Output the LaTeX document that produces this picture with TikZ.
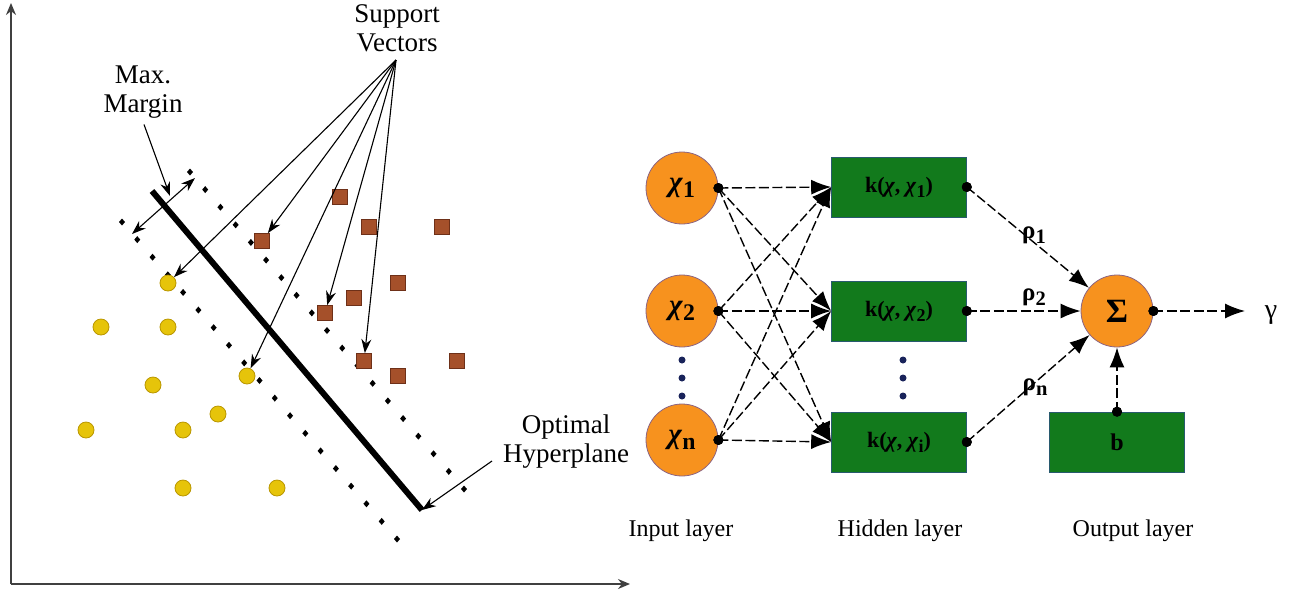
\documentclass[tikz,border=0pt]{standalone}
\usepackage{fontspec}
\setmainfont{Liberation Serif}
\usetikzlibrary{arrows.meta,calc}
\definecolor{orng}{RGB}{247,146,30}
\definecolor{orngE}{RGB}{140,100,130}
\definecolor{grn}{RGB}{18,122,28}
\definecolor{grnE}{RGB}{40,90,110}
\definecolor{ylw}{RGB}{230,196,10}
\definecolor{ylwE}{RGB}{185,150,0}
\definecolor{brn}{RGB}{165,80,42}
\definecolor{brnE}{RGB}{110,48,24}
\definecolor{navy}{RGB}{25,35,90}
\newcommand\lsub[1]{\raisebox{-0.22em}{\scalebox{0.82}{#1}}}
\newcommand\chib{\textit{χ}}
\begin{document}
\begin{tikzpicture}[x=1pt,y=-1pt,
  ypt/.style={circle, fill=ylw, draw=ylwE, line width=0.8pt, minimum size=16pt, inner sep=0pt},
  bsq/.style={rectangle, fill=brn, draw=brnE, line width=0.8pt, minimum size=15pt, inner sep=0pt},
  svarr/.style={line width=1.1pt, -{Stealth[length=14pt,width=10pt]}},
  axisline/.style={line width=1.4pt, draw=black!75, -{Stealth[length=12pt,width=10pt]}},
  lbl/.style={font=\fontsize{27}{29}\selectfont, align=center, inner sep=1pt},
  neuron/.style={circle, fill=orng, draw=orngE, line width=0.8pt, minimum size=72pt, inner sep=0pt, font=\fontsize{29}{32}\selectfont\bfseries},
  kbox/.style={rectangle, fill=grn, draw=grnE, line width=0.6pt, minimum width=135pt, minimum height=60pt, inner sep=0pt, font=\fontsize{22}{25}\selectfont\bfseries},
  dcon/.style={dash pattern=on 10pt off 3.5pt, line width=1.4pt, -{Latex[length=20pt,width=15pt]}},
  jdot/.style={circle, fill=black, minimum size=10pt, inner sep=0pt},
  vdot/.style={circle, fill=navy, minimum size=7pt, inner sep=0pt},
  layer/.style={font=\fontsize{24}{28}\selectfont},
  wlbl/.style={font=\fontsize{25}{28}\selectfont\bfseries}
]
\useasboundingbox (0,0) rectangle (1301,598);
% ---------------- SVM part ----------------
\coordinate (O) at (11,584);
\coordinate (ytop) at (11,3);
\coordinate (xend) at (630,584);
\draw[axisline] (O) -- (ytop);
\draw[axisline] (O) -- (xend);
% margin dotted lines
\coordinate (l1) at (122,222); \coordinate (l2) at (397,539);
\coordinate (r1) at (190,172); \coordinate (r2) at (464,489);
\foreach \i in {0,...,18}{
  \fill ($(l1)!\i/18!(l2)$) ++(-3,0) -- ++(3,-3.5) -- ++(3,3.5) -- ++(-3,3.5) -- cycle;
  \fill ($(r1)!\i/18!(r2)$) ++(-3,0) -- ++(3,-3.5) -- ++(3,3.5) -- ++(-3,3.5) -- cycle;
}
% hyperplane
\coordinate (h1) at (152,191); \coordinate (h2) at (422,510);
\draw[line width=6pt] (h1) -- (h2);
% points
\foreach \n/\x/\y in {c1/168/283, c2/101/327, c3/168/327, c4/153/385, c5/247/376,
  c6/218/414, c7/86/430, c8/183/430, c9/183/488, c10/277/488}
  \node[ypt] (\n) at (\x,\y) {};
\foreach \n/\x/\y in {q1/340/197, q2/369/227, q3/442/227, q4/262/241, q5/398/283,
  q6/354/298, q7/325/313, q8/364/361, q9/398/376, q10/457/361}
  \node[bsq] (\n) at (\x,\y) {};
% labels
\node[lbl] (svl) at (397,28) {Support\\Vectors};
\node[lbl] (mm) at (143,92) {Max.\\Margin};
\node[lbl] (oh) at (566,442) {Optimal\\Hyperplane};
% support vector arrows
\coordinate (svo) at (396,60);
\foreach \t in {c1,q4,c5,q7,q8}
  \draw[svarr] (svo) -- (\t);
% max margin
\coordinate (m1) at (132,234); \coordinate (m2) at (195,178);
\draw[line width=1.1pt, {Stealth[length=14pt,width=10pt]}-{Stealth[length=14pt,width=10pt]}] (m1) -- (m2);
\coordinate (mmt) at (170,196);
\draw[svarr] (mm.south) ++(1,5) -- (mmt);
% optimal hyperplane arrow
\coordinate (ohs) at (492,461);
\draw[svarr] (ohs) -- (h2);
% ---------------- RBF network ----------------
\node[neuron] (n1) at (682,188) {\chib\lsub{1}};
\node[neuron] (n2) at (682,311) {\chib\lsub{2}};
\node[neuron] (n3) at (682,440) {\chib\lsub{n}};
\node[kbox] (k1) at (899,187) {k(\chib, \chib\lsub{1})};
\node[kbox] (k2) at (899,311) {k(\chib, \chib\lsub{2})};
\node[kbox] (k3) at (899,442) {k(\chib, \chib\lsub{i})};
\node[neuron, font=\fontsize{34}{38}\selectfont\bfseries] (s) at (1117,311) {Σ};
\node[kbox, font=\fontsize{24}{28}\selectfont\bfseries] (b) at (1117,442) {b};
\coordinate (yout) at (1245,311);
\node[font=\fontsize{28}{32}\selectfont] (g) at (1271,315) {γ};
% vertical dots
\foreach \y [count=\j] in {360,378,396}{
  \node[vdot] (vi\j) at (682,\y) {};
  \node[vdot] (vh\j) at (903,\y) {};
}
% junction dots
\node[jdot] (o1) at (n1.east) {};
\node[jdot] (o2) at (n2.east) {};
\node[jdot] (o3) at (n3.east) {};
\node[jdot] (e1) at (k1.east) {};
\node[jdot] (e2) at (k2.east) {};
\node[jdot] (e3) at (k3.east) {};
\node[jdot] (os) at (s.east) {};
\node[jdot] (ob) at (b.north) {};
% connections
\foreach \a in {o1,o2,o3}
  \foreach \bb in {k1,k2,k3}
    \draw[dcon] (\a.center) -- (\bb.west);
\foreach \a in {e1,e2,e3}
  \draw[dcon] (\a.center) -- (s);
\draw[dcon] (os.center) -- (yout);
\draw[dcon] (ob.center) -- (s.south);
% redraw dots on top
\foreach \a in {o1,o2,o3,e1,e2,e3,os,ob}
  \fill (\a) circle (5pt);
% weights
\node[wlbl] (w1) at (1034,235) {ρ\lsub{1}};
\node[wlbl] (w2) at (1034,297) {ρ\lsub{2}};
\node[wlbl] (w3) at (1035,387) {ρ\lsub{n}};
% layer labels
\node[layer] (il) at (681,531) {Input layer};
\node[layer] (hl) at (900,531) {Hidden layer};
\node[layer] (ol) at (1133,531) {Output layer};
\end{tikzpicture}
\end{document}
